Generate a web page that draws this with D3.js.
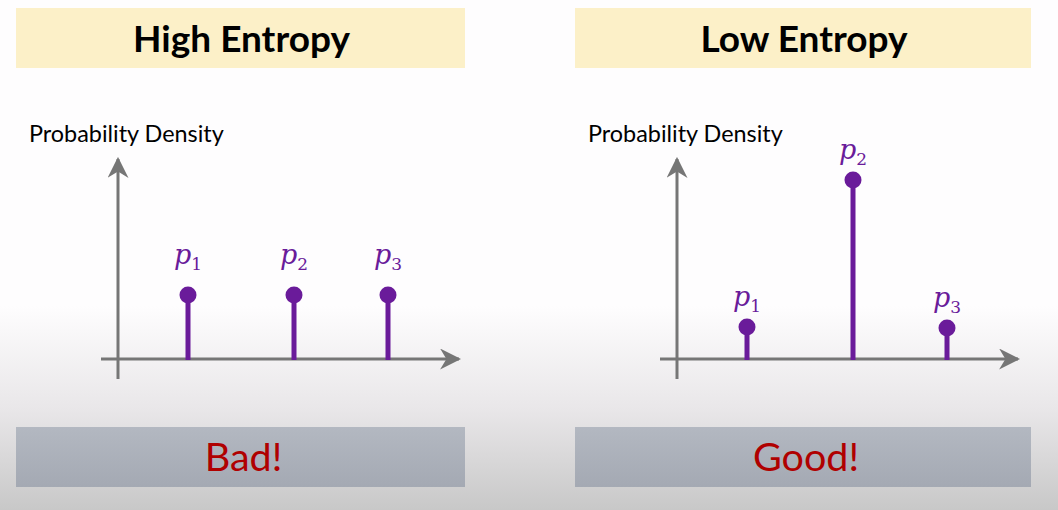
<!DOCTYPE html>
<html>
<head>
<meta charset="utf-8">
<script src="https://cdn.jsdelivr.net/npm/d3@7"></script>
<style>
  html, body { margin: 0; padding: 0; background: #fff; }
  svg { display: block; }
</style>
</head>
<body>
<svg id="chart" width="1058" height="510"></svg>
<script>
// panel titles and verdicts
var titles = ["High Entropy", "Low Entropy"];
var verdicts = ["Bad!", "Good!"];
// stems: label subscript, position along x axis
var subscripts = ["1", "2", "3"];
var stemPositions = [0.7, 1.76, 2.7];
// probability density per panel
var highDensity = [0.32, 0.32, 0.32];
var lowDensity = [0.16, 0.895, 0.155];

var densities = [highDensity, lowDensity];
var panelOffset = [0, 559];
var boxWidth = [449, 456];
var labelGap = [31, 21];

var purple = "#6a1b9a";
var axisGray = "#767676";

var svg = d3.select("#chart");
var defs = svg.append("defs");

var bg = defs.append("linearGradient")
  .attr("id", "bg")
  .attr("x1", 0).attr("y1", 0).attr("x2", 0).attr("y2", 1);
bg.append("stop").attr("offset", "0.6").attr("stop-color", "#fefdfe");
bg.append("stop").attr("offset", "0.8").attr("stop-color", "#e9e7e9");
bg.append("stop").attr("offset", "1").attr("stop-color", "#c8c8c8");

var box = defs.append("linearGradient")
  .attr("id", "verdictBox")
  .attr("x1", 0).attr("y1", 0).attr("x2", 0).attr("y2", 1);
box.append("stop").attr("offset", "0").attr("stop-color", "#b3b8c1");
box.append("stop").attr("offset", "1").attr("stop-color", "#a4a9b3");

defs.append("marker")
  .attr("id", "arrow")
  .attr("viewBox", "0 0 10 10")
  .attr("refX", 9)
  .attr("refY", 5)
  .attr("markerWidth", 7)
  .attr("markerHeight", 7)
  .attr("markerUnits", "strokeWidth")
  .attr("orient", "auto")
  .append("path")
    .attr("d", "M0,0 L10,5 L0,10 L3,5 Z")
    .attr("fill", axisGray);

svg.append("rect")
  .attr("width", 1058)
  .attr("height", 510)
  .attr("fill", "url(#bg)");

var x = d3.scaleLinear().domain([0, 3.4]).range([118, 458]);
var y = d3.scaleLinear().domain([0, 1]).range([359, 159]);

titles.forEach(function(title, i) {
  var g = svg.append("g")
    .attr("transform", "translate(" + panelOffset[i] + ",0)");
  var mid = 17 + boxWidth[i] / 2;

  g.append("rect")
    .attr("x", 16).attr("y", 8)
    .attr("width", boxWidth[i]).attr("height", 60)
    .attr("fill", "#fcf0c8");
  g.append("text")
    .attr("x", mid).attr("y", 52)
    .attr("text-anchor", "middle")
    .style("font-family", "Lato, sans-serif")
    .style("font-weight", "bold")
    .style("font-size", "37px")
    .attr("fill", "#000")
    .text(title);

  g.append("text")
    .attr("x", 29).attr("y", 142)
    .style("font-family", "Lato, sans-serif")
    .style("font-size", "23.4px")
    .attr("fill", "#000")
    .text("Probability Density");

  // axes
  g.append("line")
    .attr("x1", x(0)).attr("x2", x(0))
    .attr("y1", y(-0.1)).attr("y2", y(1))
    .attr("stroke", axisGray).attr("stroke-width", 3)
    .attr("marker-end", "url(#arrow)");
  g.append("line")
    .attr("x1", x(-0.17)).attr("x2", x(3.41))
    .attr("y1", y(0)).attr("y2", y(0))
    .attr("stroke", axisGray).attr("stroke-width", 3)
    .attr("marker-end", "url(#arrow)");

  var stems = g.selectAll(".stem")
    .data(densities[i])
    .join("g")
      .attr("class", "stem");
  stems.append("line")
    .attr("x1", function(d, j) { return x(stemPositions[j]); })
    .attr("x2", function(d, j) { return x(stemPositions[j]); })
    .attr("y1", y(0) + 1)
    .attr("y2", function(d) { return y(d); })
    .attr("stroke", purple).attr("stroke-width", 5);
  stems.append("circle")
    .attr("cx", function(d, j) { return x(stemPositions[j]); })
    .attr("cy", function(d) { return y(d); })
    .attr("r", 8.5)
    .attr("fill", purple);
  var lbl = stems.append("text")
    .attr("x", function(d, j) { return x(stemPositions[j]); })
    .attr("y", function(d) { return y(d) - labelGap[i]; })
    .attr("text-anchor", "middle")
    .attr("fill", purple)
    .style("font-family", "'DejaVu Serif', serif");
  lbl.append("tspan")
    .style("font-style", "italic")
    .style("font-size", "27px")
    .text("p");
  lbl.append("tspan")
    .attr("dy", 6)
    .style("font-size", "17px")
    .text(function(d, j) { return subscripts[j]; });

  g.append("rect")
    .attr("x", 16).attr("y", 427)
    .attr("width", boxWidth[i]).attr("height", 60)
    .attr("fill", "url(#verdictBox)");
  g.append("text")
    .attr("x", mid + 2).attr("y", 471)
    .attr("text-anchor", "middle")
    .style("font-family", "Lato, sans-serif")
    .style("font-size", "39.5px")
    .attr("fill", "#b00000")
    .text(verdicts[i]);
});
</script>
</body>
</html>
